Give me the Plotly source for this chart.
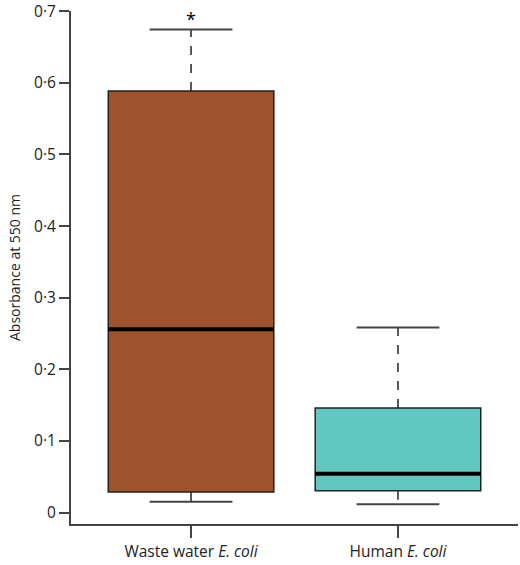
import plotly.graph_objects as go

# valeurs (absorbance a 550 nm)
groups = ["Waste water <i>E. coli</i>", "Human <i>E. coli</i>"]
lower = [0.0153, 0.0116]
q1 = [0.0287, 0.0306]
median = [0.2561, 0.0543]
q3 = [0.5886, 0.1461]
upper = [0.6744, 0.2583]
colors = ["#A0522D", "#62C6C1"]
marks = ["*", ""]

y_ticks = [0, 0.1, 0.2, 0.3, 0.4, 0.5, 0.6, 0.7]
y_labels = ["0", "0·1", "0·2", "0·3", "0·4", "0·5", "0·6", "0·7"]

box_w = 0.8
cap_w = 0.4
edge = "#222222"

fig = go.Figure()

for i in range(len(groups)):
    # boite sans moustaches (les moustaches sont tracees a part en pointille)
    fig.add_trace(go.Box(
        x=[i], q1=[q1[i]], median=[median[i]], q3=[q3[i]],
        lowerfence=[q1[i]], upperfence=[q3[i]],
        width=box_w, whiskerwidth=0,
        fillcolor=colors[i], line=dict(color=edge, width=1.5),
        boxpoints=False, hoverinfo="skip",
    ))
    # mediane en trait epais
    fig.add_trace(go.Scatter(
        x=[i - box_w / 2, i + box_w / 2], y=[median[i], median[i]],
        mode="lines", line=dict(color="black", width=4), hoverinfo="skip",
    ))
    # moustaches
    for a, b in [(q3[i], upper[i]), (q1[i], lower[i])]:
        fig.add_trace(go.Scatter(
            x=[i, i], y=[a, b], mode="lines",
            line=dict(color=edge, width=1.5, dash="dash"), hoverinfo="skip",
        ))
    for v in [upper[i], lower[i]]:
        fig.add_trace(go.Scatter(
            x=[i - cap_w / 2, i + cap_w / 2], y=[v, v], mode="lines",
            line=dict(color="#444444", width=2), hoverinfo="skip",
        ))
    if marks[i]:
        fig.add_annotation(
            x=i, y=upper[i], text=marks[i], showarrow=False,
            yshift=11, font=dict(size=18, color="black"),
        )

fig.update_layout(
    width=520, height=565,
    margin=dict(l=71, r=2, t=11, b=41),
    paper_bgcolor="white", plot_bgcolor="white",
    showlegend=False,
    font=dict(family="Open Sans", size=16, color="#222222"),
)

fig.update_xaxes(
    range=[-0.58, 1.58],
    tickvals=[0, 1], ticktext=groups,
    ticks="outside", ticklen=12, tickwidth=1.5, tickcolor="#444444",
    showline=True, linecolor="#444444", linewidth=2,
    showgrid=False, zeroline=False, automargin=False,
    tickfont=dict(size=15.5),
)
fig.update_yaxes(
    range=[-0.0159, 0.7003],
    tickvals=y_ticks, ticktext=y_labels,
    ticks="outside", ticklen=10, tickwidth=1.5, tickcolor="#444444",
    showline=True, linecolor="#444444", linewidth=2,
    showgrid=False, zeroline=False, automargin=False,
    tickfont=dict(size=15.5), ticklabeloverflow="allow",
    title=dict(text="Absorbance at 550 nm", font=dict(size=14), standoff=10),
)

fig.write_html("out.html", config={"displayModeBar": False})

# pas de marge autour de la page
with open("out.html", encoding="utf-8") as f:
    page = f.read()
page = page.replace("<body>", '<body style="margin:0">', 1)
with open("out.html", "w", encoding="utf-8") as f:
    f.write(page)
